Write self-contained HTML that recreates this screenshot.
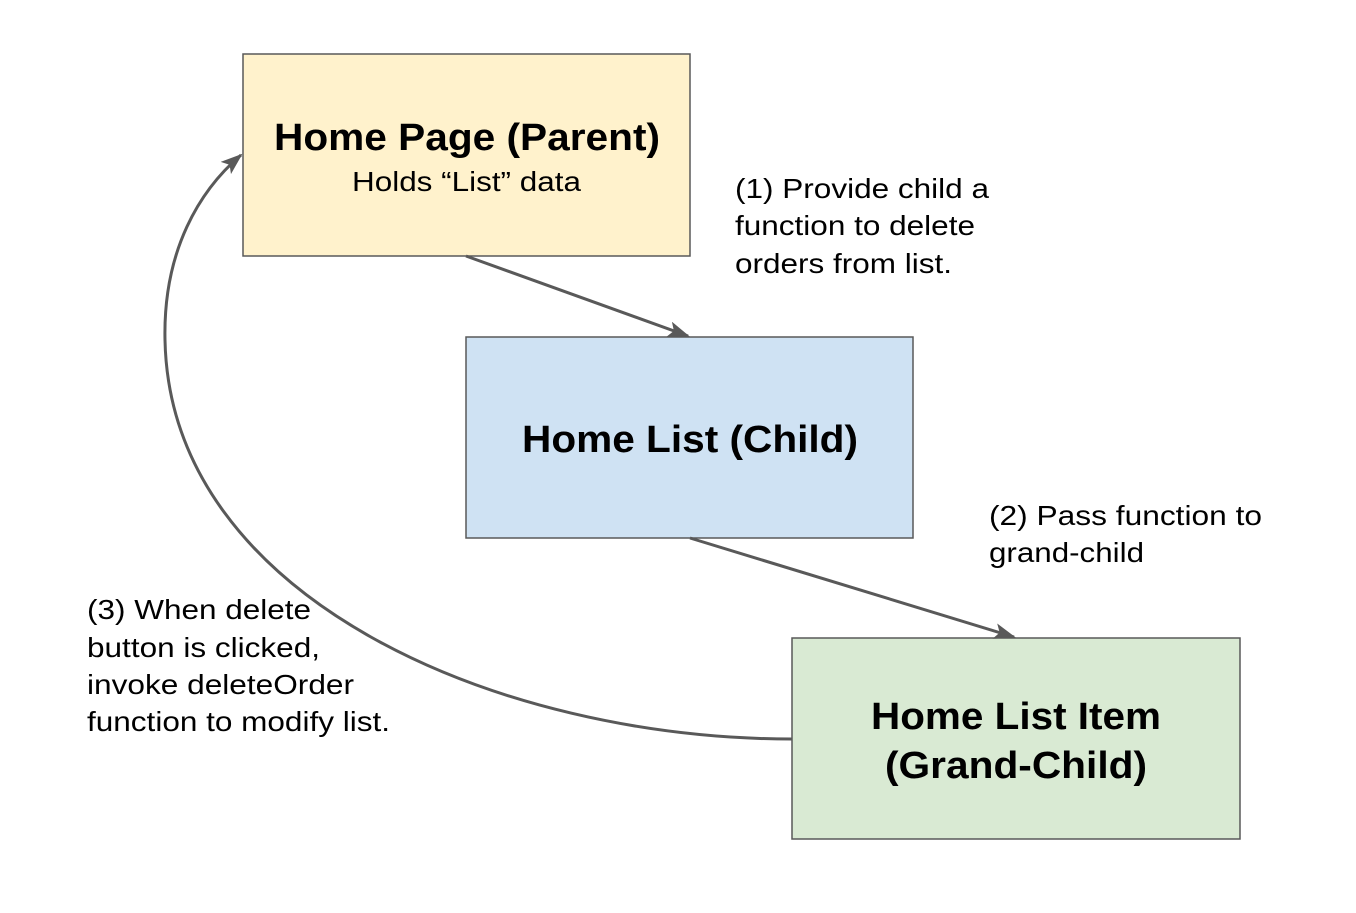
<!DOCTYPE html>
<html><head><style>
body{margin:0;background:#fff;width:1356px;height:908px;overflow:hidden;font-family:"Liberation Sans",Arial,sans-serif}
</style></head><body>
<svg width="1356" height="908" xmlns="http://www.w3.org/2000/svg" font-family="Liberation Sans, Arial, sans-serif">
<defs>
<marker id="b" markerWidth="22" markerHeight="16" refX="20" refY="8" orient="auto" markerUnits="userSpaceOnUse" viewBox="0 0 22 16">
<path d="M0,0 L22,8 L0,16 L5,8 Z" fill="#595959"/>
</marker>
</defs>
<rect x="243" y="54" width="447" height="202" fill="#fff2cc" stroke="#595959" stroke-width="1.5"/>
<rect x="466" y="337" width="447" height="201" fill="#cfe2f3" stroke="#595959" stroke-width="1.5"/>
<rect x="792" y="638" width="448" height="201" fill="#d9ead3" stroke="#595959" stroke-width="1.5"/>
<line x1="466" y1="256" x2="688" y2="336" stroke="#595959" stroke-width="3" marker-end="url(#b)"/>
<line x1="690" y1="538" x2="1014" y2="637" stroke="#595959" stroke-width="3" marker-end="url(#b)"/>
<path d="M792,739 C500,739 170,600 165,340 C163,250 200,190 241,155" fill="none" stroke="#595959" stroke-width="3" marker-end="url(#b)"/>
<g font-weight="bold" font-size="38" fill="#000" lengthAdjust="spacingAndGlyphs">
<text x="274" y="150" textLength="386" lengthAdjust="spacingAndGlyphs">Home Page (Parent)</text>
<text x="522" y="452" textLength="336" lengthAdjust="spacingAndGlyphs">Home List (Child)</text>
<text x="871" y="729" textLength="290" lengthAdjust="spacingAndGlyphs">Home List Item</text>
<text x="885" y="778" textLength="262" lengthAdjust="spacingAndGlyphs">(Grand-Child)</text>
</g>
<text x="352" y="191" font-size="28" textLength="229" lengthAdjust="spacingAndGlyphs">Holds “List” data</text>
<g font-size="28" fill="#000">
<text x="735" y="198" textLength="254" lengthAdjust="spacingAndGlyphs">(1) Provide child a</text>
<text x="735" y="235" textLength="240" lengthAdjust="spacingAndGlyphs">function to delete</text>
<text x="735" y="273" textLength="217" lengthAdjust="spacingAndGlyphs">orders from list.</text>
<text x="989" y="525" textLength="273" lengthAdjust="spacingAndGlyphs">(2) Pass function to</text>
<text x="989" y="562" textLength="155" lengthAdjust="spacingAndGlyphs">grand-child</text>
<text x="87" y="619" textLength="224" lengthAdjust="spacingAndGlyphs">(3) When delete</text>
<text x="87" y="657" textLength="233" lengthAdjust="spacingAndGlyphs">button is clicked,</text>
<text x="87" y="694" textLength="267" lengthAdjust="spacingAndGlyphs">invoke deleteOrder</text>
<text x="87" y="731" textLength="303" lengthAdjust="spacingAndGlyphs">function to modify list.</text>
</g>
</svg>
</body></html>
